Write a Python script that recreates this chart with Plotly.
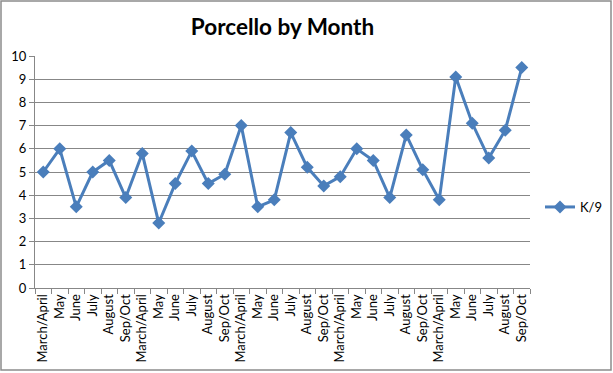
import plotly.graph_objects as go

months = ["March/April", "May", "June", "July", "August", "Sep/Oct"] * 5
k9 = [5.0, 6.0, 3.5, 5.0, 5.5, 3.9,
      5.8, 2.8, 4.5, 5.9, 4.5, 4.9,
      7.0, 3.5, 3.8, 6.7, 5.2, 4.4,
      4.8, 6.0, 5.5, 3.9, 6.6, 5.1,
      3.8, 9.1, 7.1, 5.6, 6.8, 9.5]
series_name = "K/9"
title = "Porcello by Month"
y_ticks = list(range(0, 11))

xs = list(range(len(months)))
blue = "#4A7EBB"
grid = "#878787"
font = "Lato"

fig = go.Figure()
fig.add_trace(go.Scatter(
    x=xs, y=k9, mode="lines+markers", name=series_name,
    line=dict(color=blue, width=3),
    marker=dict(symbol="diamond", size=10, color=blue),
))

W, H = 613, 373
L, R, T, B = 35, 83, 56, 85
pw, ph = W - L - R, H - T - B

fig.update_layout(
    width=W, height=H,
    margin=dict(l=L, r=R, t=T, b=B, autoexpand=False),
    paper_bgcolor="white", plot_bgcolor="white",
    font=dict(family=font, color="black", size=12),
    title=dict(text="<b>" + title + "</b>", x=0.5, xanchor="center", xref="paper",
               y=1 - 27 / H, yanchor="middle", yref="container",
               font=dict(size=22.5, family=font, color="black")),
    showlegend=True,
    legend=dict(x=(540 - L) / pw, y=(288 - 207) / ph, xanchor="left", yanchor="middle",
                font=dict(size=13, family=font), bgcolor="rgba(0,0,0,0)",
                itemwidth=30),
    xaxis=dict(
        range=[-0.5, len(months) - 0.5], automargin=False,
        tickmode="array", tickvals=xs, ticktext=months,
        tickangle=-90, ticks="", showgrid=False, zeroline=False,
        showline=True, linecolor=grid, linewidth=1,
        tickfont=dict(size=13, family=font),
        minor=dict(ticks="outside", tick0=-0.5, dtick=1, ticklen=5, tickcolor=grid, showgrid=False),
    ),
    yaxis=dict(
        range=[0, 10], tickmode="array", tickvals=y_ticks, automargin=False,
        ticks="outside", ticklen=5, tickcolor=grid,
        showgrid=True, gridcolor=grid, gridwidth=1, zeroline=False,
        showline=True, linecolor=grid, linewidth=1,
        tickfont=dict(size=13, family=font),
    ),
)

fig.add_shape(type="rect", xref="paper", yref="paper",
              x0=(1 - L) / pw, x1=(611 - L) / pw,
              y0=(288 - 370) / ph, y1=(288 - 1) / ph,
              line=dict(color="#8C8C8C", width=1.5), fillcolor="rgba(0,0,0,0)", layer="below")

fig.write_html("out.html", config={"displayModeBar": False},
               post_script="document.body.style.margin='0';document.body.style.overflow='hidden';")
